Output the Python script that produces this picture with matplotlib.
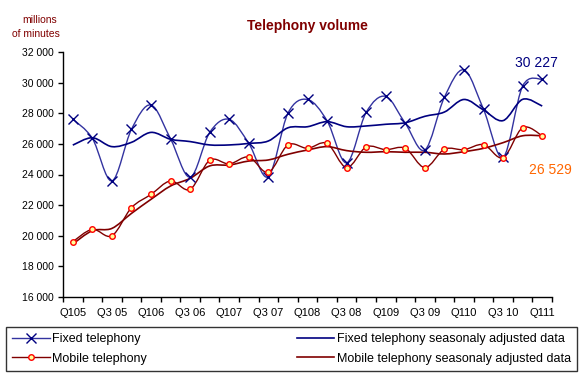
import numpy as np
import matplotlib.pyplot as plt
from matplotlib.path import Path
from matplotlib.patches import PathPatch
from matplotlib.lines import Line2D

plt.rcParams['font.family'] = ['Liberation Sans', 'DejaVu Sans']

quarters = ['Q105', 'Q2 05', 'Q3 05', 'Q4 05', 'Q106', 'Q2 06', 'Q3 06', 'Q4 06',
            'Q107', 'Q2 07', 'Q3 07', 'Q4 07', 'Q108', 'Q2 08', 'Q3 08', 'Q4 08',
            'Q109', 'Q2 09', 'Q3 09', 'Q4 09', 'Q110', 'Q2 10', 'Q3 10', 'Q4 10', 'Q111']

fixed = [27620, 26360, 23580, 26950, 28540, 26320, 23820, 26750,
         27600, 26030, 23860, 28000, 28900, 27510, 24760, 28060,
         29100, 27340, 25600, 29050, 30830, 28250, 25120, 29780, 30227]
fixed_sa = [25920, 26400, 25820, 26100, 26750, 26300, 26150, 25930,
            25930, 26030, 26190, 27050, 27120, 27450, 27120, 27170,
            27280, 27380, 27800, 28080, 28900, 28210, 27520, 28910, 28470]
mobile = [19610, 20420, 20000, 21830, 22700, 23580, 23030, 24930,
          24690, 25140, 24140, 25930, 25710, 26030, 24450, 25800,
          25620, 25710, 24450, 25650, 25620, 25950, 25100, 27060, 26529]
mobile_sa = [19460, 20330, 20480, 21460, 22380, 23250, 23750, 24560,
             24620, 24880, 24950, 25320, 25600, 25820, 25560, 25450,
             25490, 25450, 25450, 25340, 25490, 25710, 26080, 26530, 26530]

yticks = np.arange(16000, 32001, 2000)


def smooth_patch(x, y, color, lw):
    # excel style smoothed line: catmull-rom turned into bezier segments
    p = np.column_stack([x, y]).astype(float)
    p = np.vstack([p[0], p, p[-1]])
    verts = [p[1]]
    codes = [Path.MOVETO]
    for i in range(1, len(p) - 2):
        c1 = p[i] + (p[i + 1] - p[i - 1]) / 6
        c2 = p[i + 1] - (p[i + 2] - p[i]) / 6
        verts += [c1, c2, p[i + 1]]
        codes += [Path.CURVE4] * 3
    return PathPatch(Path(verts, codes), facecolor='none', edgecolor=color, lw=lw)


fig = plt.figure(figsize=(5.86, 3.79), dpi=100)
ax = fig.add_axes([63 / 586, 1 - 297 / 379, 489 / 586, 245 / 379])

x = np.arange(len(quarters))
ax.add_patch(smooth_patch(x, fixed, '#3333a0', 1.0))
ax.add_patch(smooth_patch(x, fixed_sa, '#000080', 1.2))
ax.add_patch(smooth_patch(x, mobile, '#800000', 1.0))
ax.add_patch(smooth_patch(x, mobile_sa, '#800000', 1.2))
ax.plot(x, fixed, ls='none', marker='x', ms=7, mew=1.0, color='#000080')
ax.plot(x, mobile, ls='none', marker='o', ms=4, mew=1.0, mec='#ff0000', mfc='#ffff99')

ax.set_xlim(-0.5, len(quarters) - 0.5)
ax.set_ylim(16000, 32000)
ax.set_yticks(yticks)
ax.set_yticklabels(['{:,}'.format(v).replace(',', ' ') for v in yticks], fontsize=7.5)

ax.set_xticks(np.arange(-0.5, len(quarters), 1.0))
ax.set_xticklabels([])
ax.set_xticks(x[::2], minor=True)
ax.set_xticklabels(quarters[::2], minor=True, fontsize=8)
ax.tick_params(axis='x', which='major', direction='out', length=3.6, width=1)
ax.tick_params(axis='x', which='minor', length=0, pad=8)
ax.tick_params(axis='y', direction='out', length=3.6, width=1, pad=3)

for s in ['top', 'right']:
    ax.spines[s].set_visible(False)
for s in ['left', 'bottom']:
    ax.spines[s].set_linewidth(1)

fig.text(307 / 586, 1 - 26 / 379, 'Telephony volume', ha='center', va='center',
         fontsize=10, fontweight='bold', color='#800000')
fig.text(40 / 586, 1 - 20 / 379, 'millions', ha='center', va='center', fontsize=7.5, color='#800000')
fig.text(36 / 586, 1 - 34 / 379, 'of minutes', ha='center', va='center', fontsize=7.5, color='#800000')

ax.annotate('30 227', xy=(536 / 586, 1 - 63 / 379), xycoords='figure fraction',
            ha='center', va='center', fontsize=10, color='#000080')
ax.annotate('26 529', xy=(550 / 586, 1 - 170 / 379), xycoords='figure fraction',
            ha='center', va='center', fontsize=10, color='#ff6600')

handles = [
    Line2D([], [], color='#3333a0', lw=1, marker='x', ms=7, mec='#000080'),
    Line2D([], [], color='#800000', lw=1, marker='o', ms=4, mec='#ff0000', mfc='#ffff99'),
    Line2D([], [], color='#000080', lw=1.2),
    Line2D([], [], color='#800000', lw=1.2),
]
labels = ['Fixed telephony', 'Mobile telephony',
          'Fixed telephony seasonaly adjusted data', 'Mobile telephony seasonaly adjusted data']
leg = fig.legend(handles, labels, ncol=2, mode='expand', loc='upper left',
                 bbox_to_anchor=(6 / 586, 1 - 373 / 379, 571 / 586, 46 / 379),
                 fontsize=9, frameon=True, fancybox=False, edgecolor='black',
                 handlelength=3.0, handletextpad=0.2, borderpad=0.5,
                 labelspacing=0.6, borderaxespad=0)
leg.get_frame().set_linewidth(1)

fig.savefig('out.png', dpi=100)
